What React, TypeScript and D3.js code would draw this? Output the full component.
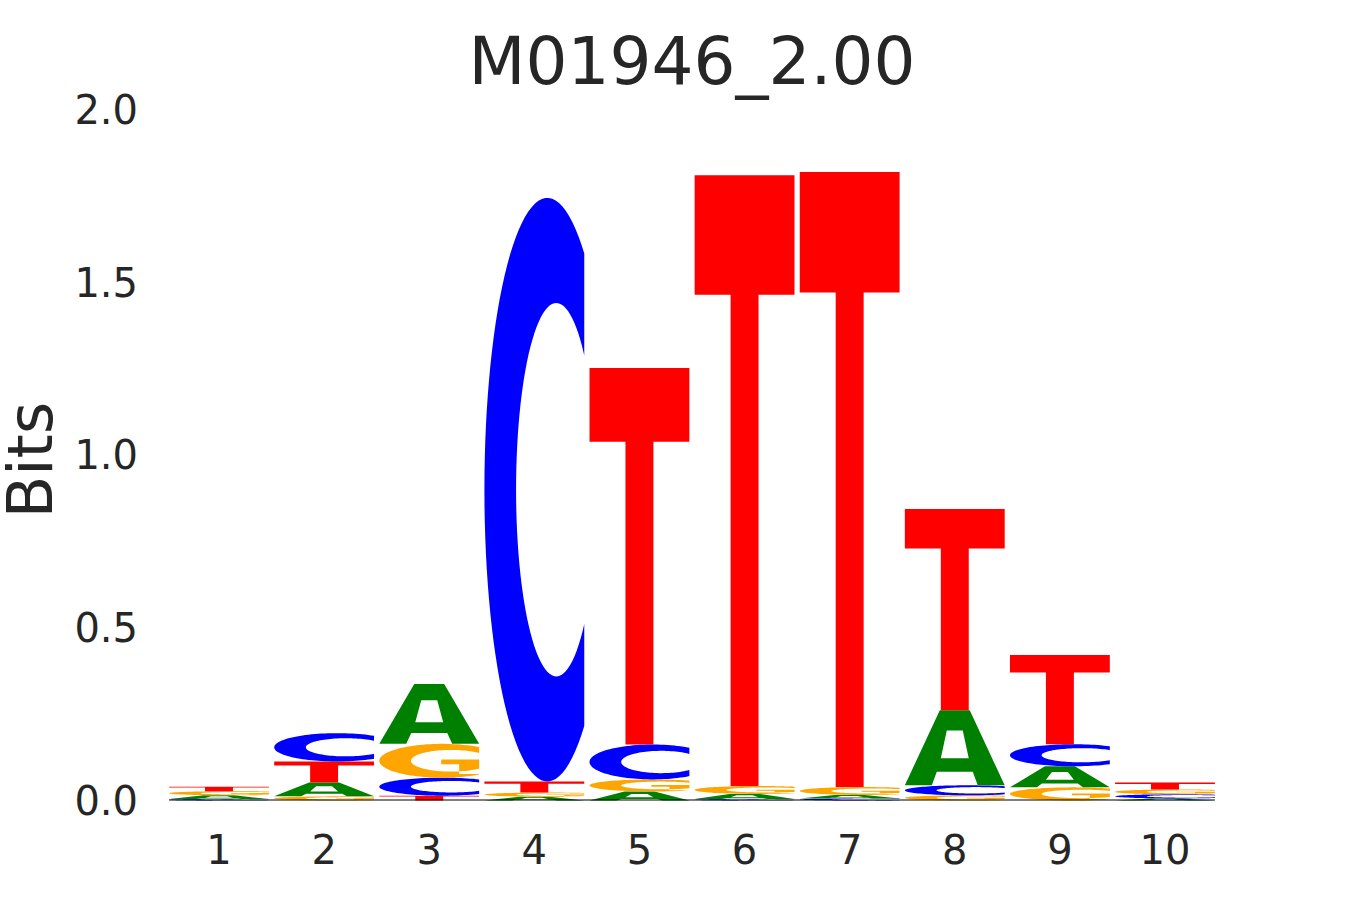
import React from "react";
import * as d3 from "d3";

const TITLE = "M01946_2.00";
const positions = [1, 2, 3, 4, 5, 6, 7, 8, 9, 10];
const bitsA = [0.011, 0.040, 0.173, 0.011, 0.026, 0.015, 0.010, 0.217, 0.061, 0.006];
const bitsC = [0.004, 0.082, 0.052, 1.689, 0.101, 0.004, 0.006, 0.029, 0.064, 0.012];
const bitsG = [0.012, 0.012, 0.098, 0.012, 0.035, 0.023, 0.023, 0.015, 0.038, 0.014];
const bitsT = [0.013, 0.061, 0.014, 0.032, 1.090, 1.768, 1.780, 0.583, 0.258, 0.020];
const yTicks = [0, 0.5, 1.0, 1.5, 2.0];
const COLORS: Record<string, string> = { A: "#008000", C: "#0000ff", G: "#ffa500", T: "#ff0000" };

type Pt = [number, number];

function ellipseArc(cx: number, cy: number, rx: number, ry: number, a0: number, a1: number, n = 80): Pt[] {
  const pts: Pt[] = [];
  for (let i = 0; i <= n; i++) {
    const t = a0 + ((a1 - a0) * i) / n;
    pts.push([cx + rx * Math.cos(t), cy + ry * Math.sin(t)]);
  }
  return pts;
}

function cShape(): Pt[] {
  const ocx = 0.63, orx = 0.63, ory = 0.5;
  const icx = 0.72, irx = 0.403, iry = 0.32;
  const th0 = Math.acos((1 - ocx) / orx);
  const ph0 = Math.acos((1 - icx) / irx);
  const outer = ellipseArc(ocx, 0.5, orx, ory, -th0, -(2 * Math.PI - th0));
  const inner = ellipseArc(icx, 0.5, irx, iry, -(2 * Math.PI - ph0), -ph0);
  return [...outer, ...inner];
}

function glyph(letter: string): { polys: Pt[][]; evenodd: boolean } {
  if (letter === "T") {
    return {
      polys: [[[0, 0], [1, 0], [1, 0.196], [0.64, 0.196], [0.64, 1], [0.36, 1], [0.36, 0.196], [0, 0.196]]],
      evenodd: false,
    };
  }
  if (letter === "A") {
    return {
      polys: [
        [[0, 1], [0.35, 0], [0.65, 0], [1, 1], [0.73, 1], [0.68, 0.82], [0.32, 0.82], [0.27, 1]],
        [[0.42, 0.27], [0.36, 0.64], [0.64, 0.64], [0.58, 0.27]],
      ],
      evenodd: true,
    };
  }
  if (letter === "C") {
    return { polys: [cShape()], evenodd: false };
  }
  // G
  return {
    polys: [
      cShape(),
      [[0.62, 0.46], [1, 0.46], [1, 0.6], [0.62, 0.6]],
      [[0.8, 0.46], [1, 0.46], [1, 0.89], [0.8, 0.89]],
    ],
    evenodd: false,
  };
}

export default function App() {
  const W = 1350, H = 900;
  const x = d3.scaleLinear().domain([0.5, 10.5]).range([166.45, 1217.55]);
  const y = d3.scaleLinear().domain([0, 2]).range([800.5, 109.5]);
  const step = x(2) - x(1);
  const gw = step * 0.95;
  const font = "'DejaVu Sans', sans-serif";
  const textColor = "#262626";

  const marks: React.ReactNode[] = [];
  positions.forEach((p, i) => {
    const vals = [
      { l: "A", v: bitsA[i] },
      { l: "C", v: bitsC[i] },
      { l: "G", v: bitsG[i] },
      { l: "T", v: bitsT[i] },
    ].sort((a, b) => a.v - b.v);
    let base = 0;
    const x0 = x(p) - gw / 2;
    vals.forEach((d) => {
      const yBot = y(base);
      const yTop = y(base + d.v);
      const h = yBot - yTop;
      const g = glyph(d.l);
      const dStr = g.polys
        .map((poly) =>
          "M" + poly.map(([u, v]) => `${(x0 + u * gw).toFixed(2)},${(yTop + v * h).toFixed(2)}`).join("L") + "Z"
        )
        .join("");
      marks.push(
        <path key={`${p}-${d.l}`} d={dStr} fill={COLORS[d.l]} fillRule={g.evenodd ? "evenodd" : "nonzero"} />
      );
      base += d.v;
    });
  });

  return (
    <svg width={W} height={H} style={{ position: "absolute", left: 0, top: 0, background: "#fff" }}>
      <rect x={0} y={0} width={W} height={H} fill="#fff" />
      <text x={692} y={84} textAnchor="middle" fontFamily={font} fontSize={66} fill={textColor}>
        {TITLE}
      </text>
      <text
        transform={`translate(52,460) rotate(-90)`}
        textAnchor="middle"
        fontFamily={font}
        fontSize={62}
        fill={textColor}
      >
        Bits
      </text>
      {yTicks.map((t) => (
        <text key={t} x={138} y={y(t)} dy="0.36em" textAnchor="end" fontFamily={font} fontSize={40} fill={textColor}>
          {t.toFixed(1)}
        </text>
      ))}
      {positions.map((p) => (
        <text key={p} x={x(p)} y={850} dy="0.36em" textAnchor="middle" fontFamily={font} fontSize={40} fill={textColor}>
          {p}
        </text>
      ))}
      {marks}
      <line x1={x(0.525)} x2={x(10.475)} y1={800} y2={800} stroke="#000" strokeWidth={1.2} />
    </svg>
  );
}
